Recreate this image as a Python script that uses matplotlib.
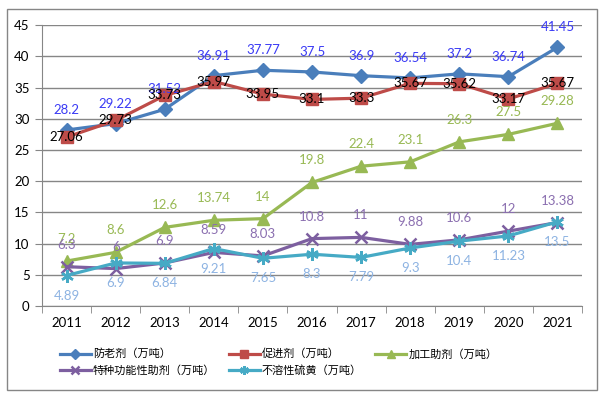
#!/usr/bin/env python3

import matplotlib.pyplot as plt
import numpy as np
from matplotlib.patches import Rectangle
from matplotlib.ticker import MultipleLocator, FixedLocator

years = ["2011", "2012", "2013", "2014", "2015", "2016",
         "2017", "2018", "2019", "2020", "2021"]

antioxidant = [28.2, 29.22, 31.52, 36.91, 37.77, 37.5, 36.9, 36.54, 37.2, 36.74, 41.45]
accelerator = [27.06, 29.73, 33.73, 35.97, 33.95, 33.1, 33.3, 35.67, 35.62, 33.17, 35.67]
processing_aid = [7.2, 8.6, 12.6, 13.74, 14, 19.8, 22.4, 23.1, 26.3, 27.5, 29.28]
special_aid = [6.3, 6, 6.9, 8.59, 8.03, 10.8, 11, 9.88, 10.6, 12, 13.38]
insoluble_sulfur = [4.89, 6.9, 6.84, 9.21, 7.65, 8.3, 7.79, 9.3, 10.4, 11.23, 13.5]

names = ["防老剂（万吨）", "促进剂（万吨）", "加工助剂（万吨）",
         "特种功能性助剂（万吨）", "不溶性硫黄（万吨）"]

NUM_FONT = ["Lato", "DejaVu Sans"]
CJK_FONT = ["Noto Sans CJK SC", "DejaVu Sans"]


def fmt(v):
    return f"{v:g}"


def main():
    fig = plt.figure(figsize=(6, 3.99), dpi=100)
    ax = fig.add_axes([0.07, 0.233, 0.9, 0.704])
    x = np.arange(len(years))

    # (values, line colour, marker, marker size, label colour, label offset in px)
    series = [
        (antioxidant, "#4A7EBB", "D", 7, "#3A3AF5", 20),
        (accelerator, "#BE4B48", "s", 8, "black", 0),
        (processing_aid, "#98B954", "^", 9, "#98B954", 22),
        (special_aid, "#7D5FA0", "x", 8, "#8B6FB0", 22),
        (insoluble_sulfur, "#46AAC5", (6, 2, 0), 9, "#8DB3E2", -20),
    ]

    handles = []
    for (vals, color, marker, ms, lcolor, off), name in zip(series, names):
        h, = ax.plot(x, vals, color=color, lw=2.3, marker=marker, ms=ms,
                     mew=1.8 if marker in ("x", (6, 2, 0)) else 1,
                     mec=color, mfc=color, label=name, zorder=3)
        handles.append(h)
        for xi, v in zip(x, vals):
            ax.annotate(fmt(v), (xi, v), xytext=(0, off), textcoords="offset pixels",
                        ha="center", va="center", fontsize=9.5, color=lcolor,
                        family=NUM_FONT, zorder=5)

    ax.set_xlim(-0.5, len(years) - 0.5)
    ax.set_ylim(0, 45)
    ax.yaxis.set_major_locator(MultipleLocator(5))
    ax.set_xticks(x, years)
    ax.xaxis.set_minor_locator(FixedLocator(np.arange(-0.5, len(years), 1)))
    ax.tick_params(axis="x", which="major", length=0, pad=8)
    ax.tick_params(axis="x", which="minor", length=5, color="#868686")
    ax.tick_params(axis="y", length=5, color="#868686", pad=4)
    for lbl in ax.get_xticklabels() + ax.get_yticklabels():
        lbl.set_family(NUM_FONT)
        lbl.set_fontsize(9.5)

    ax.grid(axis="y", color="#868686", lw=1)
    ax.set_axisbelow(True)
    for side in ("top", "right"):
        ax.spines[side].set_visible(False)
    for side in ("left", "bottom"):
        ax.spines[side].set_color("#868686")

    # Excel fills legend rows first, matplotlib columns first
    order = [0, 3, 1, 4, 2]
    fig.legend([handles[i] for i in order], [names[i] for i in order],
               loc="upper left", bbox_to_anchor=(0.09, 0.14), ncol=3,
               frameon=False, prop={"family": CJK_FONT, "size": 8},
               handlelength=2.8, handletextpad=0.2, columnspacing=1.2,
               labelspacing=0.5, borderpad=0, markerscale=0.7)

    fig.patches.append(Rectangle((7 / 600, 9 / 399), 590 / 600, 381 / 399,
                                 transform=fig.transFigure, fill=False,
                                 edgecolor="#868686", lw=1))

    fig.savefig("out.png", dpi=100)


if __name__ == "__main__":
    main()
